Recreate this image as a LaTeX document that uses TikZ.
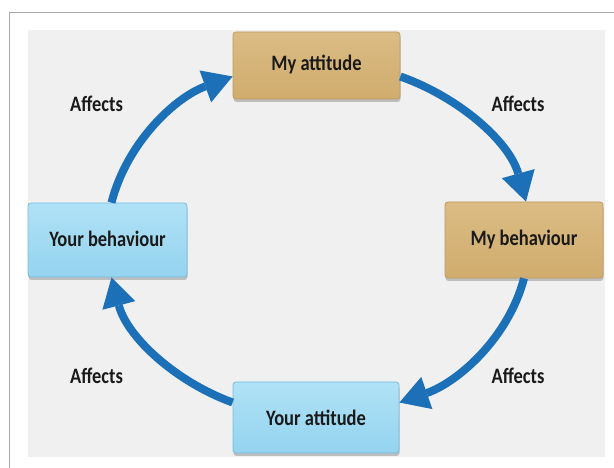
\documentclass[tikz,border=0pt]{standalone}
\usepackage{fontspec}
\setmainfont{Carlito}[FakeStretch=0.84]
\usetikzlibrary{arrows.meta,shadows}

\definecolor{tanTop}{HTML}{DBBC84}
\definecolor{tanBot}{HTML}{D0AC6E}
\definecolor{tanEdge}{HTML}{BF9A5C}
\definecolor{skyTop}{HTML}{B0E2F6}
\definecolor{skyBot}{HTML}{94D3EF}
\definecolor{skyEdge}{HTML}{74BDE0}
\definecolor{cycleBlue}{HTML}{1B70B8}
\definecolor{panelGray}{HTML}{F0F0F0}
\definecolor{frameGray}{HTML}{A9A9A9}
\definecolor{inkDark}{HTML}{1A1A1A}

\tikzset{
  lbl/.style={font=\fontsize{22}{26}\selectfont\bfseries, text=inkDark, inner sep=0pt},
  boxbase/.style={rectangle, rounded corners=3pt, line width=0.8pt, lbl,
    drop shadow={shadow xshift=0.5pt, shadow yshift=-3pt, opacity=0.3, fill=black!70}},
  tanbox/.style={boxbase, draw=tanEdge, top color=tanTop, bottom color=tanBot},
  skybox/.style={boxbase, draw=skyEdge, top color=skyTop, bottom color=skyBot},
  cyclearrow/.style={draw=cycleBlue, line width=8pt, looseness=0.9,
    -{Triangle[length=29pt, width=34pt, line width=0pt]}}
}

\begin{document}
\begin{tikzpicture}[x=1pt, y=1pt]
  % page, frame and panel
  \fill[white] (0,0) rectangle (614,468);
  \useasboundingbox (0,0) rectangle (614,468);
  \draw[frameGray, line width=0.8pt] (9,0) -- (9,455.5) -- (614,455.5);
  \fill[panelGray] (28,11) rectangle (605,438);

  % the four boxes
  \node[tanbox, minimum width=167pt, minimum height=67pt] (ma) at (316.5,402.5) {\raisebox{5pt}{My attitude}};
  \node[tanbox, minimum width=158pt, minimum height=76pt] (mb) at (524,228) {\raisebox{2pt}{My behaviour}};
  \node[skybox, minimum width=166pt, minimum height=71pt] (ya) at (316,50.5) {Your attitude};
  \node[skybox, minimum width=159pt, minimum height=74pt] (yb) at (107.5,228) {\raisebox{2pt}{Your behaviour}};

  % clockwise cycle of arrows
  \draw[cyclearrow] ([xshift=4pt]yb.north) to[out=75.7, in=200] ([yshift=-11pt]ma.west);
  \draw[cyclearrow] ([yshift=-11pt]ma.east) to[out=-19.5, in=105.5] ([xshift=2pt]mb.north);
  \draw[cyclearrow] (mb.south) to[out=255.3, in=19.1] ([yshift=15pt]ya.east);
  \draw[cyclearrow] ([yshift=15pt]ya.west) to[out=160, in=284.7] ([xshift=4pt]yb.south);

  % "Affects" labels
  \node[lbl] (atl) at (96.5,364) {Affects};
  \node[lbl] (atr) at (518,364) {Affects};
  \node[lbl] (abl) at (96.5,92) {Affects};
  \node[lbl] (abr) at (518,92) {Affects};
\end{tikzpicture}
\end{document}
